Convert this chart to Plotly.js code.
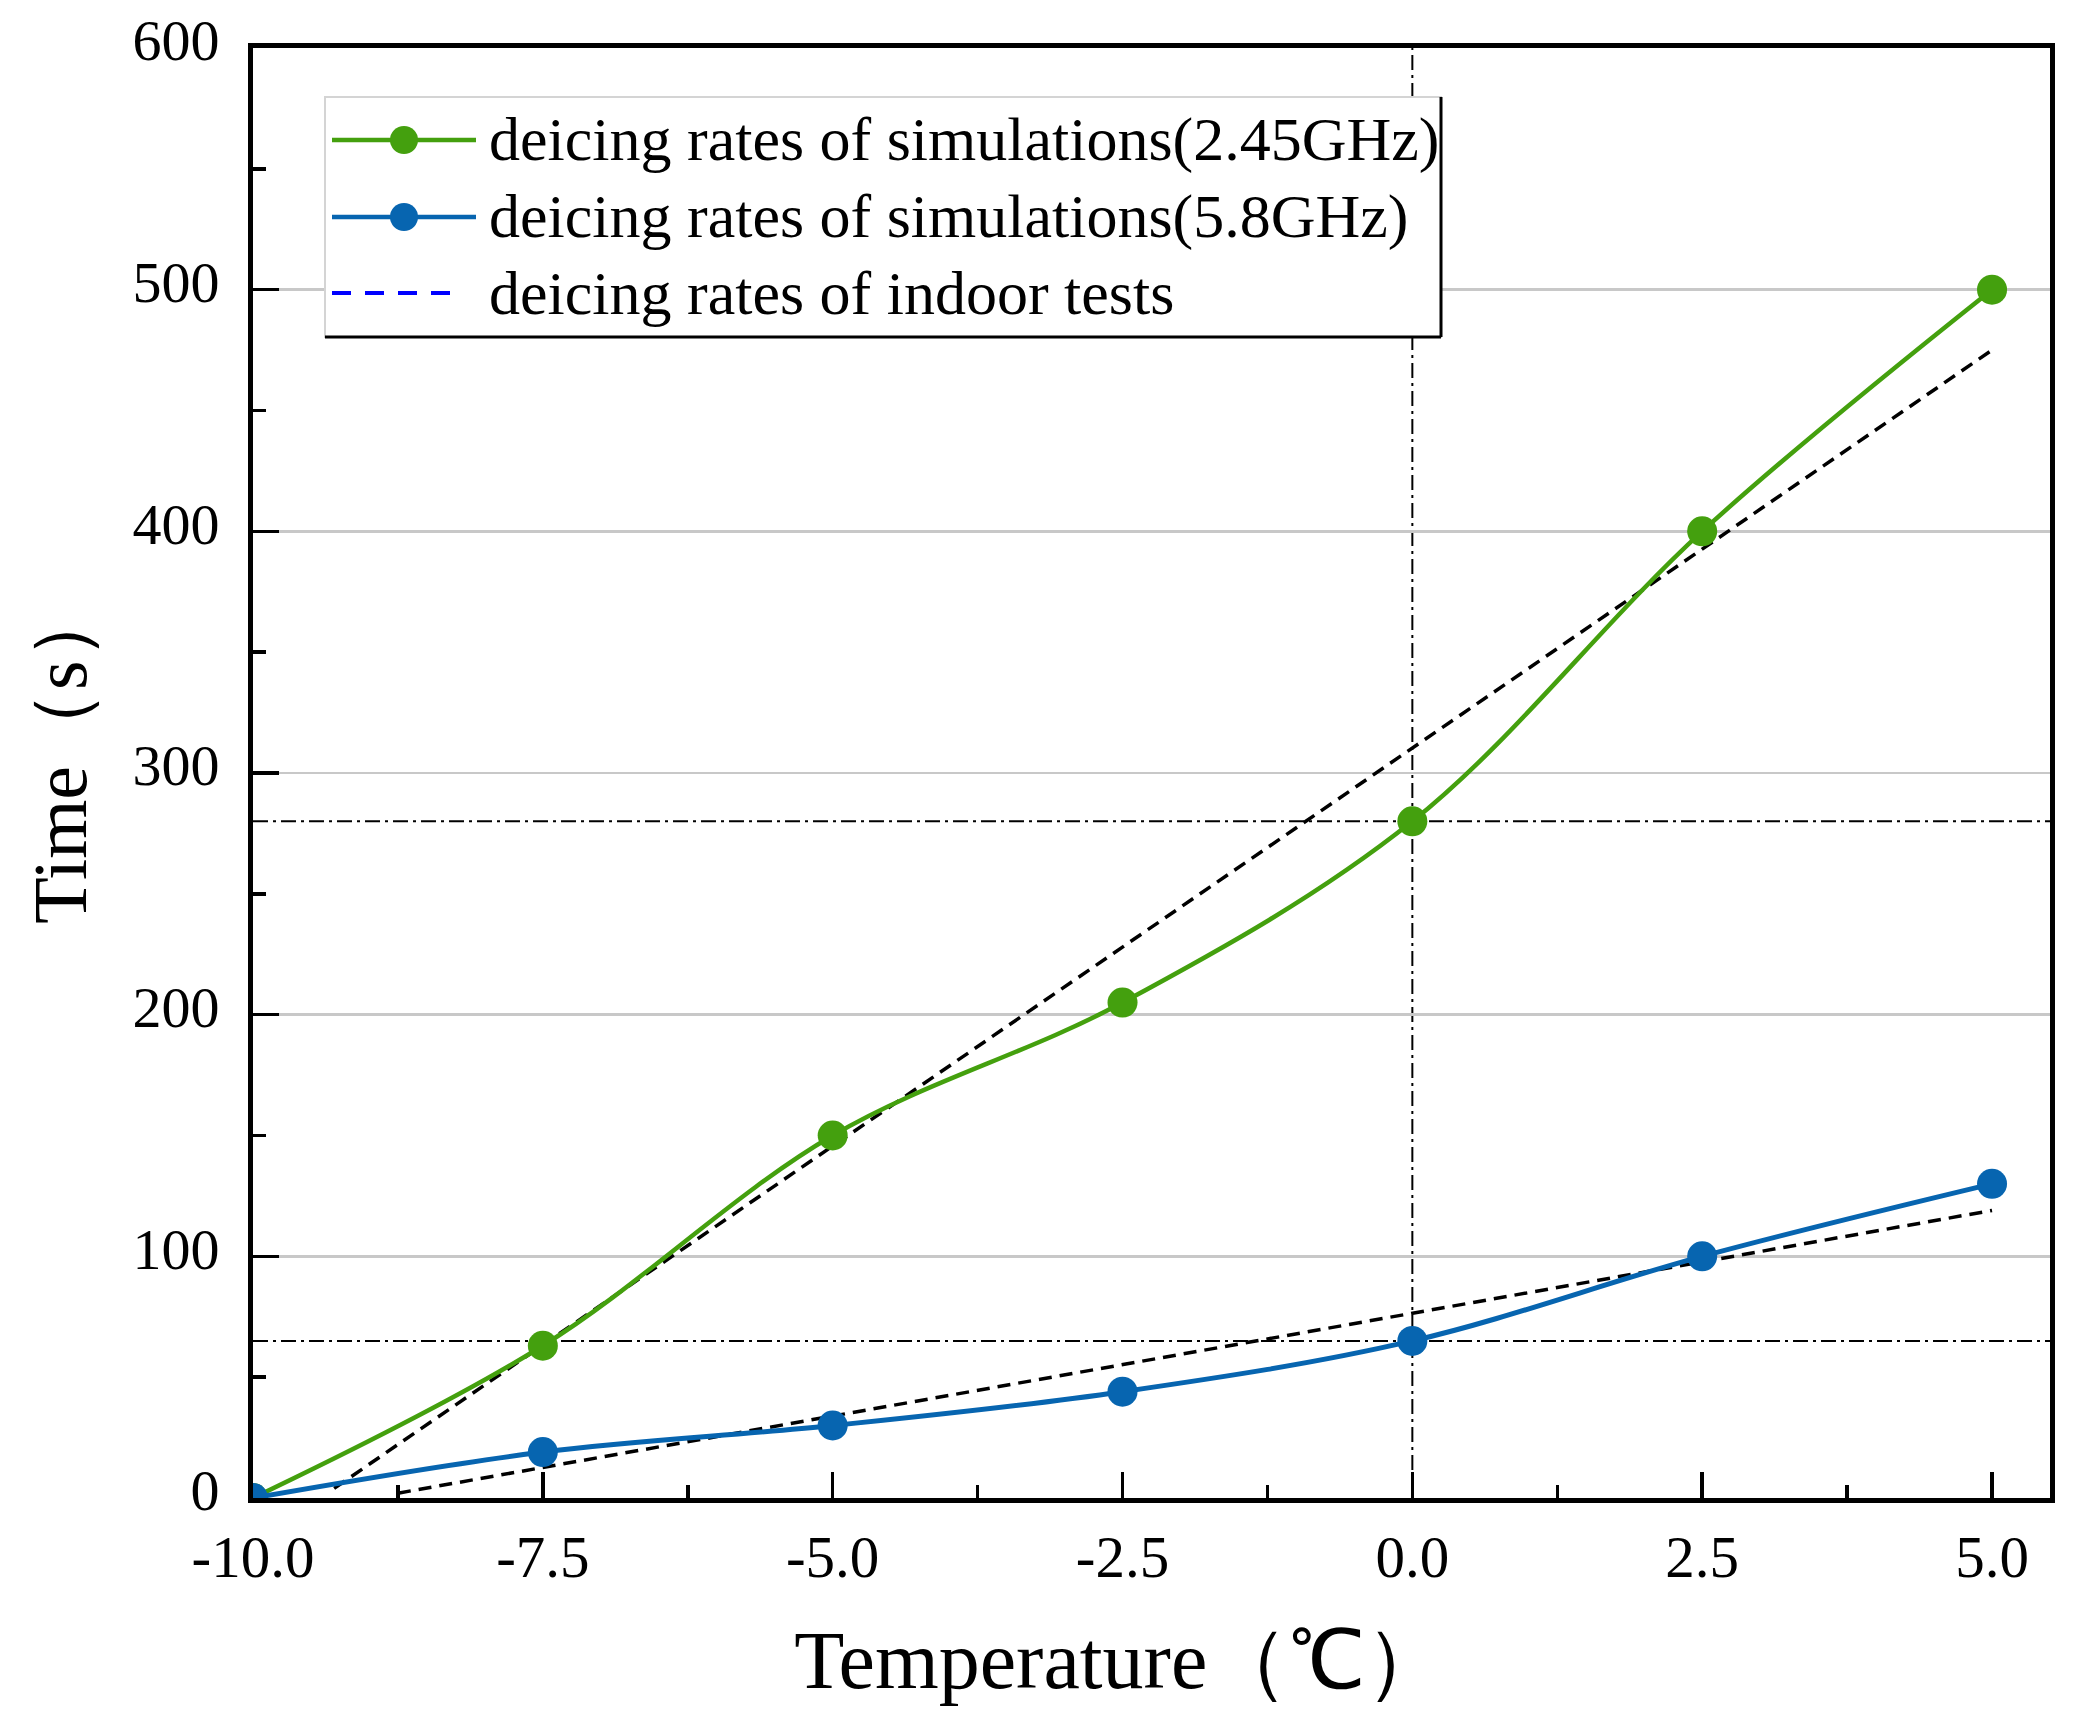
<!DOCTYPE html>
<html>
<head>
<meta charset="utf-8">
<script src="https://cdn.plot.ly/plotly-3.0.1.min.js"></script>
<style>
  html, body { margin: 0; padding: 0; background: #fff; }
  #chart { width: 2082px; height: 1717px; }
</style>
</head>
<body>
<div id="chart"></div>
<script>
/* Deicing time vs. temperature: simulations at two frequencies plus the
   fitted indoor-test lines. */
(function () {
  "use strict";

  // data
  var tempX = [-10, -7.5, -5, -2.5, 0, 2.5, 5];
  var sim245 = [0, 63, 150, 205, 280, 400, 500];
  var sim58 = [0, 19, 30, 44, 65, 100, 130];
  var indoorX245 = [-9.3, 5];
  var indoor245 = [4, 475];
  var indoorX58 = [-8.75, 5];
  var indoor58 = [2, 119];
  var refX = [0];
  var refY = [280, 65];
  var xTickVals = [-10, -7.5, -5, -2.5, 0, 2.5, 5];
  var xTickText = ["-10.0", "-7.5", "-5.0", "-2.5", "0.0", "2.5", "5.0"];
  var yTickVals = [0, 100, 200, 300, 400, 500, 600];
  var legendLabels = [
    "deicing rates of simulations(2.45GHz)",
    "deicing rates of simulations(5.8GHz)",
    "deicing rates of indoor tests"
  ];

  var green = "#44a00e";
  var blue = "#0765b0";
  var serif = "Liberation Serif, Times New Roman, serif";
  // padding (nbsp kept alive by a zero-width char) to off-centre the axis titles like the original
  var pad = "\u00a0\u00a0\u00a0\u200b";

  // plot box in page pixels, used to place the hand-drawn legend
  var W = 2082, H = 1717;
  var M = { l: 253, r: 32, t: 48, b: 219 };
  function px(x) { return (x - M.l) / (W - M.l - M.r); }
  function py(y) { return (H - M.b - y) / (H - M.t - M.b); }

  var traces = [
    { x: indoorX245, y: indoor245, type: "scatter", mode: "lines", line: { color: "#000", width: 3.5, dash: "13px,8px" }, hoverinfo: "skip" },
    { x: indoorX58, y: indoor58, type: "scatter", mode: "lines", line: { color: "#000", width: 3.5, dash: "13px,8px" }, hoverinfo: "skip" },
    { x: tempX, y: sim245, type: "scatter", mode: "lines+markers", name: legendLabels[0],
      line: { color: green, width: 4.5, shape: "spline", smoothing: 1 }, marker: { color: green, size: 30 } },
    { x: tempX, y: sim58, type: "scatter", mode: "lines+markers", name: legendLabels[1],
      line: { color: blue, width: 5, shape: "spline", smoothing: 1 }, marker: { color: blue, size: 30 } }
  ];

  var dashDot = "15px,5px,3px,5px";
  var shapes = [];
  refX.forEach(function (v) {
    shapes.push({ type: "line", xref: "x", yref: "paper", x0: v, x1: v, y0: 0, y1: 1, layer: "below",
      line: { color: "#000", width: 2, dash: dashDot } });
  });
  refY.forEach(function (v) {
    shapes.push({ type: "line", xref: "paper", yref: "y", x0: 0, x1: 1, y0: v, y1: v, layer: "below",
      line: { color: "#000", width: 2, dash: dashDot } });
  });

  // legend box (light top/left edge, dark bottom/right edge like the original)
  var lg = { x0: 325, x1: 1441, y0: 97, y1: 337 };
  var rows = [140, 217, 293];
  shapes.push({ type: "rect", xref: "paper", yref: "paper", x0: px(lg.x0), x1: px(lg.x1), y0: py(lg.y1), y1: py(lg.y0),
    fillcolor: "#fff", line: { color: "#d4d4d4", width: 2 }, layer: "above" });
  shapes.push({ type: "line", xref: "paper", yref: "paper", x0: px(lg.x0), x1: px(lg.x1), y0: py(lg.y1), y1: py(lg.y1),
    line: { color: "#000", width: 3 }, layer: "above" });
  shapes.push({ type: "line", xref: "paper", yref: "paper", x0: px(lg.x1), x1: px(lg.x1), y0: py(lg.y0), y1: py(lg.y1),
    line: { color: "#000", width: 3 }, layer: "above" });

  var symColors = [green, blue];
  symColors.forEach(function (c, i) {
    shapes.push({ type: "line", xref: "paper", yref: "paper", x0: px(332), x1: px(476), y0: py(rows[i]), y1: py(rows[i]),
      line: { color: c, width: 4.5 }, layer: "above" });
    shapes.push({ type: "circle", xref: "paper", yref: "paper", xsizemode: "pixel", ysizemode: "pixel",
      xanchor: px(404), yanchor: py(rows[i]), x0: -14, x1: 14, y0: -14, y1: 14,
      fillcolor: c, line: { color: c, width: 0 }, layer: "above" });
  });
  shapes.push({ type: "line", xref: "paper", yref: "paper", x0: px(332), x1: px(460), y0: py(rows[2]), y1: py(rows[2]),
    line: { color: "#0000ff", width: 4, dash: "19px,14px" }, layer: "above" });

  var annotations = legendLabels.map(function (t, i) {
    return { text: t, xref: "paper", yref: "paper", x: px(487), y: py(rows[i]), xanchor: "left", yanchor: "middle",
      showarrow: false, font: { family: serif, size: 62, color: "#000" } };
  });

  var layout = {
    width: W,
    height: H,
    margin: M,
    paper_bgcolor: "#fff",
    plot_bgcolor: "#fff",
    showlegend: false,
    font: { family: serif, color: "#000" },
    xaxis: {
      range: [-10, 5.5],
      tickvals: xTickVals,
      ticktext: xTickText,
      ticks: "inside",
      ticklen: 26,
      tickwidth: 3.5,
      tickcolor: "#000",
      ticklabelstandoff: 3,
      minor: { ticks: "inside", dtick: 1.25, tick0: -10, ticklen: 13, tickwidth: 3.5, tickcolor: "#000", showgrid: false },
      tickfont: { family: serif, size: 59, color: "#000" },
      showline: true,
      linecolor: "#000",
      linewidth: 5,
      mirror: true,
      showgrid: false,
      zeroline: false,
      title: { text: "Temperature（℃）" + pad, font: { family: serif, size: 82, color: "#000" }, standoff: 43 }
    },
    yaxis: {
      range: [0, 600],
      tickvals: yTickVals,
      ticks: "inside",
      ticklen: 26,
      tickwidth: 3.5,
      tickcolor: "#000",
      ticklabelstandoff: 17,
      ticklabelshift: -8,
      minor: { ticks: "inside", dtick: 50, tick0: 0, ticklen: 13, tickwidth: 3.5, tickcolor: "#000", showgrid: false },
      tickfont: { family: serif, size: 58, color: "#000" },
      showline: true,
      linecolor: "#000",
      linewidth: 5,
      mirror: true,
      showgrid: true,
      gridcolor: "#c8c8c8",
      gridwidth: 2.5,
      zeroline: false,
      title: { text: "\u200b\u00a0\u00a0Time（s）", font: { family: serif, size: 76, color: "#000" }, standoff: 22 }
    },
    shapes: shapes,
    annotations: annotations
  };

  Plotly.newPlot("chart", traces, layout, { displayModeBar: false, staticPlot: true });
})();
</script>
</body>
</html>
